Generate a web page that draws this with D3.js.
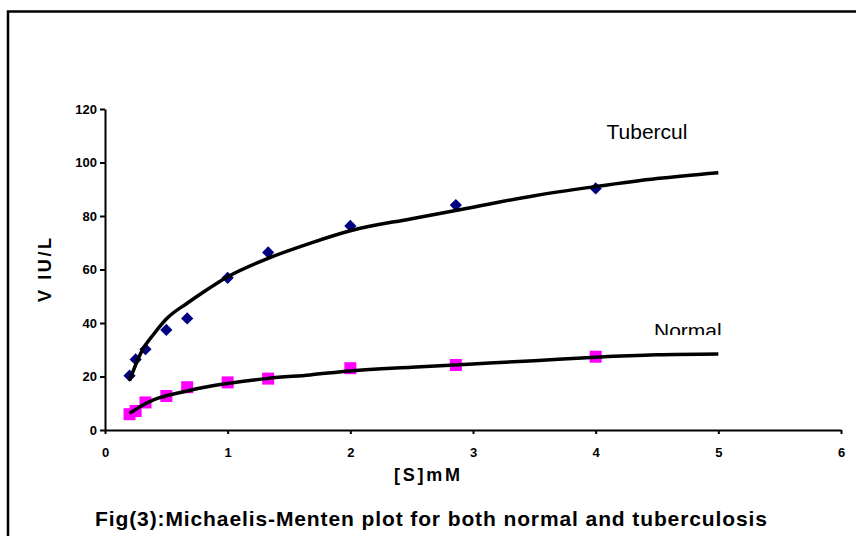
<!DOCTYPE html>
<html>
<head>
<meta charset="utf-8">
<script src="https://cdn.jsdelivr.net/npm/d3@7"></script>
<style>
  html, body { margin: 0; padding: 0; background: #fff; }
  svg { display: block; font-family: Arial, "Liberation Sans", sans-serif; }
</style>
</head>
<body>
<svg id="chart" width="856" height="536"></svg>
<script>
// ---- Data ----
const substrate = [0.2, 0.25, 0.33, 0.5, 0.67, 1, 1.33, 2, 2.86, 4];
const tuberculV = [20.3, 26.4, 30.2, 37.4, 41.7, 56.9, 66.4, 76.3, 84.1, 90.3];
const normalV   = [5.9, 7.1, 10.3, 12.7, 16.0, 17.8, 19.2, 23.1, 24.3, 27.4];

// Trend curves as drawn in the reference (read at these [S] values)
const curveS         = [0.2, 0.3, 0.4, 0.5, 0.67, 0.8, 1, 1.33, 1.67, 2, 2.5, 3, 3.5, 4, 4.5, 5];
const tuberculCurveV = [18.5, 29.5, 36, 41.5, 47.4, 51.5, 57.3, 64.2, 69.8, 74.5, 79, 83.3, 87.6, 91, 94, 96.2];
const normalCurveV   = [6.2, 9.1, 11.4, 12.8, 14.6, 15.9, 17.4, 19.3, 20.6, 22.1, 23.5, 24.7, 25.9, 27.2, 28.1, 28.4];

const xTicks = [0, 1, 2, 3, 4, 5, 6];
const yTicks = [0, 20, 40, 60, 80, 100, 120];

const seriesLabels = ["Tubercul", "Normal"];
const xTitle = "[S]mM";
const yTitle = "V IU/L";
const caption = "Fig(3):Michaelis-Menten plot for both normal and tuberculosis";

// ---- Drawing ----
const svg = d3.select("#chart");

// outer frame (left and top edges visible)
svg.append("path")
  .attr("d", "M8,540 L8,11.5 L860,11.5")
  .attr("fill", "none").attr("stroke", "#000").attr("stroke-width", 2.5);

const x = d3.scaleLinear().domain([0, 6]).range([105, 841]);
const y = d3.scaleLinear().domain([0, 120]).range([430, 109]);

// axes
const yAxis = svg.append("g").attr("transform", `translate(${x(0)},0)`)
  .call(d3.axisLeft(y).tickValues(yTicks).tickFormat(d3.format("d"))
    .tickSize(5).tickSizeOuter(0).tickPadding(3));
const xAxis = svg.append("g").attr("transform", `translate(0,${y(0)})`)
  .call(d3.axisBottom(x).tickValues(xTicks).tickFormat(d3.format("d"))
    .tickSize(4).tickSizeOuter(0).tickPadding(14));

[xAxis, yAxis].forEach(g => {
  g.select(".domain").attr("stroke", "#000").attr("stroke-width", 2);
  g.selectAll(".tick line").attr("stroke", "#000").attr("stroke-width", 2);
  g.selectAll(".tick text")
    .attr("fill", "#000")
    .style("font-family", 'Arial, "Liberation Sans", sans-serif')
    .style("font-size", "13px").style("font-weight", "bold");
});

// markers
const diamond = d3.symbol().type(d3.symbolDiamond2).size(95);
svg.append("g").selectAll("path")
  .data(substrate.map((s, i) => [s, tuberculV[i]]))
  .join("path")
  .attr("transform", d => `translate(${x(d[0])},${y(d[1])})`)
  .attr("d", diamond)
  .attr("fill", "#000080");

svg.append("g").selectAll("rect")
  .data(substrate.map((s, i) => [s, normalV[i]]))
  .join("rect")
  .attr("x", d => x(d[0]) - 6).attr("y", d => y(d[1]) - 6)
  .attr("width", 12).attr("height", 12)
  .attr("fill", "#ff00ff");

// trend lines
const line = d3.line().x(d => x(d[0])).y(d => y(d[1])).curve(d3.curveMonotoneX);
[tuberculCurveV, normalCurveV].forEach(vals => {
  svg.append("path")
    .datum(curveS.map((s, i) => [s, vals[i]]))
    .attr("d", line)
    .attr("fill", "none").attr("stroke", "#000")
    .attr("stroke-width", 3.5).attr("stroke-linejoin", "round");
});

// series labels
svg.append("defs").append("clipPath").attr("id", "clipNormal")
  .append("rect").attr("x", 0).attr("y", 0).attr("width", 856).attr("height", 335);

svg.append("text").attr("x", 606.5).attr("y", 138.5)
  .style("font-size", "21px").attr("fill", "#000").text(seriesLabels[0]);
svg.append("text").attr("x", 654).attr("y", 337.5)
  .attr("clip-path", "url(#clipNormal)")
  .style("font-size", "21px").attr("fill", "#000").text(seriesLabels[1]);

// axis titles
svg.append("text").attr("x", 427).attr("y", 481)
  .attr("text-anchor", "middle")
  .attr("textLength", 66).attr("lengthAdjust", "spacing")
  .style("font-size", "18px").style("font-weight", "bold").text(xTitle);

svg.append("text")
  .attr("transform", "translate(51,270) rotate(-90)")
  .attr("text-anchor", "middle")
  .attr("textLength", 64).attr("lengthAdjust", "spacing")
  .style("font-size", "18px").style("font-weight", "bold").text(yTitle);

// caption
svg.append("text").attr("x", 431).attr("y", 526)
  .attr("text-anchor", "middle")
  .attr("textLength", 672).attr("lengthAdjust", "spacing")
  .style("font-size", "21px").style("font-weight", "bold").text(caption);
</script>
</body>
</html>
